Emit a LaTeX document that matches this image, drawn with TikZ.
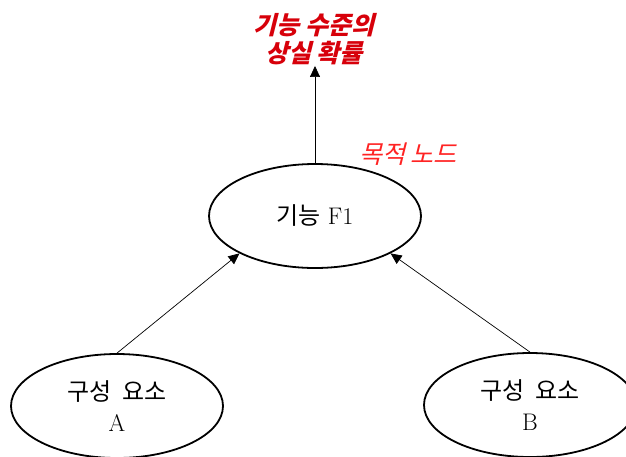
\documentclass[tikz,border=0pt]{standalone}
\usepackage{fontspec}
\usetikzlibrary{arrows.meta,shapes.geometric}
\newfontfamily\kofont{Noto Sans CJK KR}
\newfontfamily\koslant{Noto Sans CJK KR}[FakeSlant=0.25]
\definecolor{goalred}{RGB}{215,0,10}
\definecolor{notered}{RGB}{255,35,35}
\tikzset{
  comp/.style={ellipse, draw, line width=1.8pt, minimum width=212pt, minimum height=104pt,
    align=center, font=\fontsize{24}{31}\selectfont},
  link/.style={line width=0.7pt, -{Triangle[length=11pt,width=10pt]}},
}
\begin{document}
\begin{tikzpicture}[x=1pt,y=-1pt]
\useasboundingbox (0,0) rectangle (626,456);
% nodes
\node[comp] (f1) at (315,216) {{\kofont 기능} F1};
\node[comp] (compa) at (117,406) {{\kofont 구성\ \ 요소}\\A};
\node[comp] (compb) at (530,405) {{\kofont 구성\ \ 요소}\\B};
\node[align=center, text=goalred, inner sep=1pt, font=\fontsize{25}{28}\selectfont\koslant\bfseries]
  (loss) at (314,39) {기능 수준의\\상실 확률};
\node[text=notered, font=\fontsize{25}{28}\selectfont\koslant] (goal) at (408,154) {목적 노드};
% connectors
\draw[link] (f1.north) -- (f1.north |- loss.south);
\draw[link] (compa.north) -- (f1.south west);
\draw[link] (compb.north) -- (f1.south east);
\end{tikzpicture}
\end{document}
